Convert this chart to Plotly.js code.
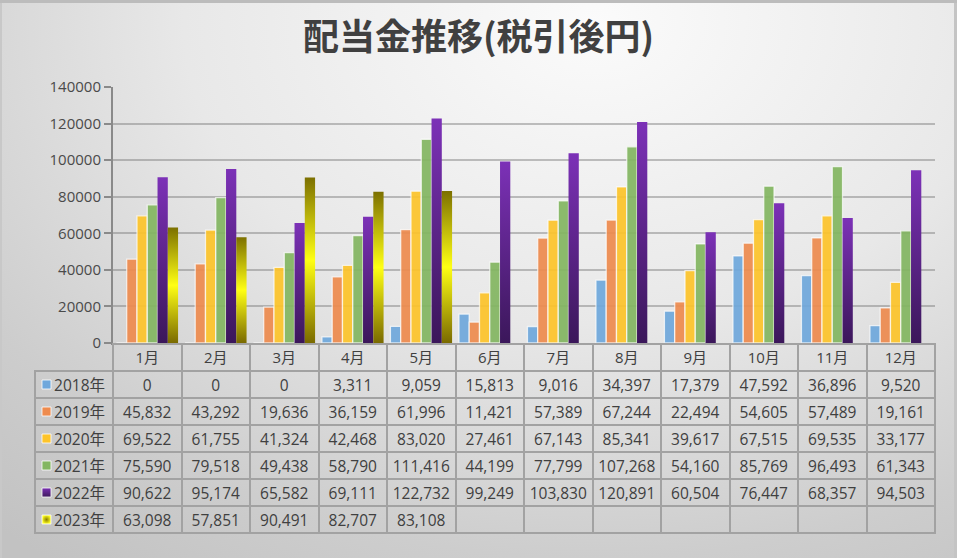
<!DOCTYPE html>
<html>
<head>
<meta charset="utf-8">
<script src="https://cdn.plot.ly/plotly-3.0.1.min.js"></script>
<style>
  html, body { margin: 0; padding: 0; }
  #chart {
    width: 957px; height: 558px;
    background: radial-gradient(ellipse 95% 120% at 62% 4%, #fbfbfb 0%, #e8e8e8 45%, #cdcdcd 80%, #c2c2c2 100%);
    box-shadow: inset 0 3px 0 #bcbcbc, inset -3px 0 0 #c4c4c4, inset 2px 0 0 #c8c8c8;
  }
</style>
</head>
<body>
<div id="chart"></div>
<script>
//data
const months = ['1月','2月','3月','4月','5月','6月','7月','8月','9月','10月','11月','12月'];
const years = ['2018年','2019年','2020年','2021年','2022年','2023年'];

const y2018 = [0, 0, 0, 3311, 9059, 15813, 9016, 34397, 17379, 47592, 36896, 9520];
const y2019 = [45832, 43292, 19636, 36159, 61996, 11421, 57389, 67244, 22494, 54605, 57489, 19161];
const y2020 = [69522, 61755, 41324, 42468, 83020, 27461, 67143, 85341, 39617, 67515, 69535, 33177];
const y2021 = [75590, 79518, 49438, 58790, 111416, 44199, 77799, 107268, 54160, 85769, 96493, 61343];
const y2022 = [90622, 95174, 65582, 69111, 122732, 99249, 103830, 120891, 60504, 76447, 68357, 94503];
const y2023 = [63098, 57851, 90491, 82707, 83108, null, null, null, null, null, null, null];

const series = [y2018, y2019, y2020, y2021, y2022, y2023];
const colors = ['#6fa8dc', '#ee8b4e', '#fdc42a', '#83b661', '#5e2690', '#c4b800'];
const swatch = ['#6fa8dc', '#ee8b4e', '#fdc42a', '#83b661', '#7a30b2', '#ffff20'];
const swatchGrad = ['none', 'none', 'none', 'none', 'vertical', 'radial'];
const swatchGradColor = ['#6fa8dc', '#ee8b4e', '#fdc42a', '#83b661', '#3e1a5c', '#8a7e00'];

const W = 957, H = 558;
const plotLeft = 113, plotRight = 935, plotTop = 87, plotBottom = 343;
const tableLeft = 35, tableBottom = 533, rowH = 27;

const fontFam = '"Open Sans", "Noto Sans CJK JP", sans-serif';
const titleFam = '"Noto Sans CJK JP", sans-serif';
const txtColor = '#404040';

//bar traces
let traces = series.map(function (vals, i) {
  let outlined = i < 4;
  return {
    type: 'bar',
    name: years[i],
    x: months,
    y: vals,
    xaxis: 'x',
    yaxis: 'y',
    marker: {
      color: colors[i],
      opacity: outlined ? 0.92 : 1,
      line: {color: outlined ? 'rgba(255,255,255,0.75)' : 'rgba(0,0,0,0)', width: outlined ? 1.3 : 0}
    },
    hoverinfo: 'skip'
  };
});

//data table under the chart
function fmt(v) {
  return v === null ? '' : v.toLocaleString('en-US');
}
let cellCols = [years].concat(months.map(function (m, j) {
  return series.map(function (vals) { return fmt(vals[j]); });
}));
let lineCol = '#a2a2a2';
let headerLines = ['rgba(0,0,0,0)'].concat(months.map(function () { return lineCol; }));

traces.push({
  type: 'table',
  domain: {x: [tableLeft / W, plotRight / W], y: [0, (H - plotBottom - 1) / H]},
  columnwidth: [78].concat(months.map(function () { return 68.5; })),
  header: {
    values: [''].concat(months),
    height: rowH,
    align: 'center',
    fill: {color: 'rgba(255,255,255,0)'},
    line: {color: headerLines, width: 2},
    font: {family: fontFam, size: 15, color: txtColor}
  },
  cells: {
    values: cellCols,
    height: rowH,
    align: ['right'].concat(months.map(function () { return 'center'; })),
    fill: {color: 'rgba(255,255,255,0)'},
    line: {color: lineCol, width: 2},
    font: {family: fontFam, size: 15.5, color: txtColor}
  }
});

//legend keys in the first column of the table
traces.push({
  type: 'scatter',
  mode: 'markers',
  x: years.map(function () { return 0; }),
  y: years,
  xaxis: 'x2',
  yaxis: 'y2',
  marker: {
    symbol: 'square',
    size: 9,
    color: swatch,
    gradient: {type: swatchGrad, color: swatchGradColor},
    line: {color: 'rgba(255,255,255,0.8)', width: 1}
  },
  hoverinfo: 'skip'
});

let layout = {
  width: W,
  height: H,
  margin: {l: 0, r: 0, t: 0, b: 0},
  paper_bgcolor: 'rgba(0,0,0,0)',
  plot_bgcolor: 'rgba(0,0,0,0)',
  showlegend: false,
  barmode: 'group',
  bargap: 0.1,
  bargroupgap: 0,
  title: {
    text: '配当金推移(税引後円)',
    x: 0.5,
    xanchor: 'center',
    y: 1 - 37 / H,
    yanchor: 'middle',
    font: {family: titleFam, size: 36, color: txtColor, weight: 700}
  },
  xaxis: {
    domain: [plotLeft / W, plotRight / W],
    showticklabels: false,
    showgrid: false,
    zeroline: false,
    showline: true,
    linecolor: '#8a8a8a',
    linewidth: 2,
    fixedrange: true
  },
  yaxis: {
    domain: [(H - plotBottom) / H, (H - plotTop) / H],
    range: [0, 140000],
    tickvals: [0, 20000, 40000, 60000, 80000, 100000, 120000, 140000],
    ticktext: ['0', '20000', '40000', '60000', '80000', '100000', '120000', '140000'],
    ticks: 'outside',
    ticklen: 7,
    tickwidth: 2,
    tickcolor: '#8a8a8a',
    showline: true,
    linecolor: '#8a8a8a',
    linewidth: 2,
    showgrid: true,
    gridcolor: 'rgba(120,120,120,0.45)',
    gridwidth: 2,
    zeroline: false,
    tickfont: {family: fontFam, size: 15, color: '#4a4a4a'},
    fixedrange: true
  },
  //hidden axes spanning the table's label column, one category per row
  xaxis2: {
    domain: [tableLeft / W, plotLeft / W],
    range: [-11.5, 66.5],
    visible: false,
    fixedrange: true
  },
  yaxis2: {
    domain: [(H - tableBottom) / H, (H - tableBottom + years.length * rowH) / H],
    type: 'category',
    categoryarray: years,
    range: [years.length - 0.5, -0.5],
    visible: false,
    fixedrange: true
  }
};

//gradient fills for the 2022 and 2023 bars
function addGradients() {
  let svg = document.querySelector('#chart .main-svg');
  if (!svg || document.getElementById('gradPurple')) return;
  let ns = 'http://www.w3.org/2000/svg';
  let defs = svg.querySelector('defs') || svg.insertBefore(document.createElementNS(ns, 'defs'), svg.firstChild);
  function grad(id, stops) {
    let g = document.createElementNS(ns, 'linearGradient');
    g.setAttribute('id', id);
    g.setAttribute('x1', '0'); g.setAttribute('y1', '0');
    g.setAttribute('x2', '0'); g.setAttribute('y2', '1');
    stops.forEach(function (s) {
      let st = document.createElementNS(ns, 'stop');
      st.setAttribute('offset', s[0]);
      st.setAttribute('stop-color', s[1]);
      g.appendChild(st);
    });
    defs.appendChild(g);
  }
  grad('gradPurple', [['0', '#7c31b7'], ['1', '#3b175a']]);
  grad('gradOlive', [['0', '#7c7000'], ['0.5', '#ffff14'], ['1', '#7a6a00']]);
  let barTraces = document.querySelectorAll('#chart .barlayer .trace');
  [[4, 'gradPurple'], [5, 'gradOlive']].forEach(function (p) {
    let t = barTraces[p[0]];
    if (!t) return;
    t.querySelectorAll('path').forEach(function (path) {
      path.style.fill = 'url(#' + p[1] + ')';
    });
  });
}

Plotly.newPlot('chart', traces, layout, {staticPlot: true, displayModeBar: false}).then(addGradients);
</script>
</body>
</html>
